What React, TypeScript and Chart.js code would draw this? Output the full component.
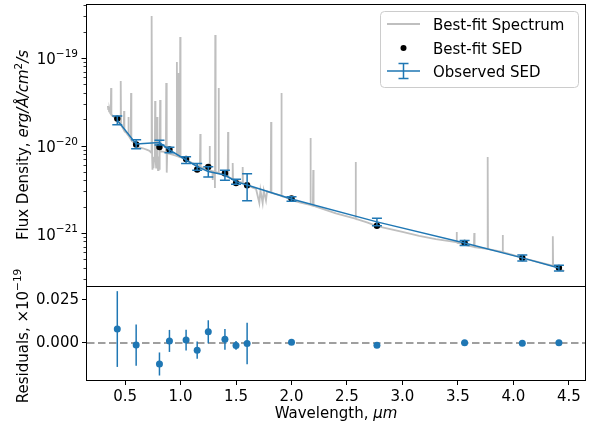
import React, { useEffect, useRef } from 'react';
import { Chart, registerables } from 'chart.js';

Chart.register(...registerables);

// ---------------- data ----------------
const BAND_WAVE = [0.43, 0.6, 0.81, 0.9, 1.05, 1.15, 1.25, 1.4, 1.5, 1.6, 2.0, 2.77, 3.56, 4.08, 4.41];
const OBS_FLUX = [1.95e-20, 1.04e-20, 1.08e-20, 8.9e-21, 6.83e-21, 5.73e-21, 5.05e-21, 4.6e-21, 3.86e-21, 3.54e-21, 2.45e-21, 1.34e-21, 7.7e-22, 5.2e-22, 3.98e-22];
const MODEL_FLUX = [2.03e-20, 1.03e-20, 9.6e-21, 9.0e-21, 7.0e-21, 5.31e-21, 5.7e-21, 4.81e-21, 3.72e-21, 3.51e-21, 2.49e-21, 1.21e-21, 7.72e-22, 5.18e-22, 4.0e-22];
// residuals and errors in units of 1e-19
const RESID = [0.0081, -0.0012, -0.0122, 0.0012, 0.0017, -0.0042, 0.0065, 0.0021, -0.0014, -0.0003, 0.0004, -0.0013, 0.0002, -0.0002, 0.0002];
const OBS_ERR = [0.022, 0.012, 0.0067, 0.0064, 0.006, 0.005, 0.0067, 0.006, 0.0025, 0.012, 0.0015, 0.0013, 0.0005, 0.0004, 0.0003];
const RES_UNIT = 1e-19;

const SPEC_WAVE = [
  0.345, 0.348, 0.352, 0.356, 0.360, 0.366, 0.371, 0.374, 0.377, 0.390,
  0.410, 0.430, 0.445, 0.458, 0.461, 0.464, 0.475, 0.488, 0.491, 0.494,
  0.510, 0.527, 0.530, 0.533, 0.551, 0.554, 0.557, 0.580, 0.600, 0.630,
  0.660, 0.700, 0.720, 0.735, 0.738, 0.741, 0.744, 0.747, 0.752, 0.756,
  0.762, 0.768, 0.771, 0.774, 0.780, 0.786, 0.789, 0.792, 0.797, 0.802,
  0.807, 0.812, 0.816, 0.820, 0.840, 0.860, 0.868, 0.871, 0.874, 0.877,
  0.880, 0.920, 0.950, 0.964, 0.967, 0.970, 0.979, 0.982, 0.985, 0.994,
  0.997, 1.000, 1.050, 1.100, 1.175, 1.178, 1.181, 1.220, 1.259, 1.262,
  1.265, 1.287, 1.290, 1.293, 1.308, 1.310, 1.313, 1.316, 1.340, 1.343,
  1.346, 1.390, 1.425, 1.428, 1.431, 1.467, 1.470, 1.473, 1.510, 1.557,
  1.560, 1.563, 1.600, 1.650, 1.680, 1.710, 1.720, 1.740, 1.750, 1.770,
  1.780, 1.813, 1.816, 1.819, 1.860, 1.906, 1.909, 1.912, 1.960, 2.000,
  2.080, 2.168, 2.171, 2.174, 2.193, 2.196, 2.199, 2.300, 2.400, 2.500,
  2.575, 2.578, 2.581, 2.680, 2.770, 2.900, 3.000, 3.150, 3.300, 3.485,
  3.488, 3.491, 3.560, 3.644, 3.647, 3.650, 3.765, 3.768, 3.771, 3.900,
  3.903, 3.906, 4.000, 4.080, 4.200, 4.352, 4.355, 4.358, 4.410, 4.460,
];
const SPEC_FLUX = [
  2.83e-20, 2.60e-20, 2.75e-20, 2.45e-20, 2.55e-20, 2.35e-20, 2.30e-20, 4.54e-20, 2.28e-20, 2.17e-20,
  2.05e-20, 1.91e-20, 1.80e-20, 1.73e-20, 5.46e-20, 1.71e-20, 1.62e-20, 1.51e-20, 2.48e-20, 1.49e-20,
  1.40e-20, 1.31e-20, 2.12e-20, 1.29e-20, 1.18e-20, 3.98e-20, 1.16e-20, 1.06e-20, 9.9e-21, 9.5e-21,
  9.3e-21, 8.9e-21, 8.7e-21, 8.3e-21, 8.5e-21, 3.02e-19, 7.5e-21, 5.3e-21, 7.0e-21, 5.5e-21,
  7.2e-21, 7.6e-21, 3.23e-20, 7.4e-21, 5.6e-21, 7.8e-21, 2.12e-20, 7.3e-21, 5.25e-21, 7.5e-21,
  5.4e-21, 8.2e-21, 3.31e-20, 8.5e-21, 8.5e-21, 8.4e-21, 8.35e-21, 5.18e-20, 8.3e-21, 4.9e-21,
  8.2e-21, 7.9e-21, 7.7e-21, 7.6e-21, 9.0e-20, 7.55e-21, 7.5e-21, 6.74e-20, 7.45e-21, 7.4e-21,
  1.74e-19, 7.35e-21, 6.9e-21, 6.35e-21, 5.75e-21, 1.35e-20, 5.7e-21, 5.45e-21, 5.25e-21, 9.86e-21,
  5.2e-21, 5.1e-21, 4.04e-21, 5.05e-21, 5.0e-21, 3.27e-21, 1.83e-19, 4.95e-21, 4.87e-21, 4.54e-20,
  4.85e-21, 4.55e-21, 4.38e-21, 1.43e-20, 4.36e-21, 4.15e-21, 6.3e-21, 4.13e-21, 3.95e-21, 3.75e-21,
  5.68e-21, 3.73e-21, 3.54e-21, 3.3e-21, 3.2e-21, 2.2e-21, 3.1e-21, 2.2e-21, 3.05e-21, 2.35e-21,
  2.98e-21, 2.9e-21, 1.86e-20, 2.88e-21, 2.78e-21, 2.67e-21, 3.98e-20, 2.65e-21, 2.52e-21, 2.38e-21,
  2.22e-21, 2.10e-21, 1.22e-20, 2.09e-21, 2.05e-21, 5.25e-21, 2.04e-21, 1.85e-21, 1.68e-21, 1.55e-21,
  1.46e-21, 6.47e-21, 1.45e-21, 1.32e-21, 1.20e-21, 1.10e-21, 1.03e-21, 9.3e-22, 8.5e-22, 7.85e-22,
  1.03e-21, 7.8e-22, 7.3e-22, 6.95e-22, 1.0e-21, 6.9e-22, 6.58e-22, 7.4e-21, 6.55e-22, 6.08e-22,
  9.5e-22, 6.05e-22, 5.6e-22, 5.18e-22, 4.75e-22, 4.25e-22, 9.2e-22, 4.22e-22, 3.88e-22, 3.68e-22,
];

const X_TICKS = [0.5, 1.0, 1.5, 2.0, 2.5, 3.0, 3.5, 4.0, 4.5];
const FLUX_DECADES = [-19, -20, -21];
const RES_TICKS = [0, 0.025];
const X_MIN = 0.157;
const X_MAX = 4.645;
const FLUX_MIN = 2.48e-22;
const FLUX_MAX = 4.14e-19;
const RES_MIN = -0.0215;
const RES_MAX = 0.0331;

const LEGEND_LABELS = ['Best-fit Spectrum', 'Best-fit SED', 'Observed SED'];

// ---------------- styles ----------------
const FAM = "'DejaVu Sans', sans-serif";
const FS = 15;
const BLUE = '#1f77b4';
const SPEC_GRAY = '#bfbfbf';

type Part = { t: string; font: string; dy?: number };

function drawParts(ctx: any, parts: Part[], x: number, y: number, align: 'left' | 'center' | 'right') {
  const widths = parts.map((p) => {
    ctx.font = p.font;
    return ctx.measureText(p.t).width;
  });
  const total = widths.reduce((a, b) => a + b, 0);
  let cx = align === 'left' ? x : align === 'center' ? x - total / 2 : x - total;
  ctx.textAlign = 'left';
  ctx.textBaseline = 'alphabetic';
  parts.forEach((p, i) => {
    ctx.font = p.font;
    ctx.fillText(p.t, cx, y + (p.dy || 0));
    cx += widths[i];
  });
}

const normal = (s: number) => `${s}px ${FAM}`;
const italic = (s: number) => `italic ${s}px ${FAM}`;

const topPlugin = {
  id: 'topDeco',
  afterDatasetsDraw(chart: any) {
    const { ctx, scales } = chart;
    const x = scales.x;
    const y = scales.y;
    ctx.save();
    ctx.strokeStyle = BLUE;
    ctx.lineWidth = 1.5;
    BAND_WAVE.forEach((w, i) => {
      const px = x.getPixelForValue(w);
      const e = OBS_ERR[i] * RES_UNIT;
      const hi = y.getPixelForValue(OBS_FLUX[i] + e);
      const lo = y.getPixelForValue(OBS_FLUX[i] - e);
      ctx.beginPath();
      ctx.moveTo(px, hi);
      ctx.lineTo(px, lo);
      ctx.moveTo(px - 5, hi);
      ctx.lineTo(px + 5, hi);
      ctx.moveTo(px - 5, lo);
      ctx.lineTo(px + 5, lo);
      ctx.stroke();
    });
    ctx.restore();
  },
  afterDraw(chart: any) {
    const { ctx, chartArea: a, scales } = chart;
    const y = scales.y;
    ctx.save();
    // frame
    ctx.strokeStyle = '#000';
    ctx.lineWidth = 1;
    ctx.strokeRect(a.left - 0.5, a.top + 0.5, a.right - a.left + 1, a.bottom - a.top);
    // log ticks
    for (let d = -22; d <= -19; d++) {
      for (let m = 1; m <= 9; m++) {
        const v = m * Math.pow(10, d);
        if (v < FLUX_MIN || v > FLUX_MAX) continue;
        const py = Math.round(y.getPixelForValue(v)) + 0.5;
        const len = m === 1 ? 5 : 3;
        ctx.lineWidth = m === 1 ? 1 : 0.8;
        ctx.beginPath();
        ctx.moveTo(a.left - 0.5 - len, py);
        ctx.lineTo(a.left - 0.5, py);
        ctx.stroke();
      }
    }
    // major labels
    ctx.fillStyle = '#000';
    FLUX_DECADES.forEach((d) => {
      const py = y.getPixelForValue(Math.pow(10, d));
      drawParts(
        ctx,
        [
          { t: '10', font: normal(FS), dy: 6.5 },
          { t: '\u2212' + String(-d), font: normal(10.5), dy: -1 },
        ],
        a.left - 9,
        py,
        'right'
      );
    });
    // y title
    ctx.save();
    ctx.translate(28, (a.top + a.bottom) / 2);
    ctx.rotate(-Math.PI / 2);
    drawParts(
      ctx,
      [
        { t: 'Flux Density, ', font: normal(FS) },
        { t: 'erg/\u00C5/cm', font: italic(FS) },
        { t: '2', font: normal(10.5), dy: -6 },
        { t: '/s', font: italic(FS) },
      ],
      0,
      0,
      'center'
    );
    ctx.restore();
    // legend
    const lx = 380.5, ly = 11.5, lw = 198, lh = 76;
    ctx.beginPath();
    if (ctx.roundRect) ctx.roundRect(lx, ly, lw, lh, 4);
    else ctx.rect(lx, ly, lw, lh);
    ctx.fillStyle = 'rgba(255,255,255,0.8)';
    ctx.fill();
    ctx.strokeStyle = '#cccccc';
    ctx.lineWidth = 1;
    ctx.stroke();
    const rows = [24, 48, 71];
    const h0 = 387, h1 = 420, hc = (h0 + h1) / 2;
    // spectrum handle
    ctx.strokeStyle = SPEC_GRAY;
    ctx.lineWidth = 1.8;
    ctx.beginPath();
    ctx.moveTo(h0, rows[0]);
    ctx.lineTo(h1, rows[0]);
    ctx.stroke();
    // SED dot
    ctx.fillStyle = '#000';
    ctx.beginPath();
    ctx.arc(hc, rows[1], 3, 0, Math.PI * 2);
    ctx.fill();
    // observed handle
    ctx.strokeStyle = BLUE;
    ctx.lineWidth = 1.5;
    ctx.beginPath();
    ctx.moveTo(h0, rows[2]);
    ctx.lineTo(h1, rows[2]);
    ctx.moveTo(hc, rows[2] - 7.5);
    ctx.lineTo(hc, rows[2] + 7.5);
    ctx.moveTo(hc - 5, rows[2] - 7.5);
    ctx.lineTo(hc + 5, rows[2] - 7.5);
    ctx.moveTo(hc - 5, rows[2] + 7.5);
    ctx.lineTo(hc + 5, rows[2] + 7.5);
    ctx.stroke();
    ctx.fillStyle = '#000';
    LEGEND_LABELS.forEach((t, i) => {
      drawParts(ctx, [{ t, font: normal(FS) }], 433, rows[i] + 5.5, 'left');
    });
    ctx.restore();
  },
};

const botPlugin = {
  id: 'botDeco',
  beforeDatasetsDraw(chart: any) {
    const { ctx, chartArea: a, scales } = chart;
    const x = scales.x;
    const y = scales.y;
    ctx.save();
    // zero line
    const y0 = y.getPixelForValue(0);
    ctx.strokeStyle = '#808080';
    ctx.lineWidth = 1.5;
    ctx.setLineDash([7.5, 3.5]);
    ctx.beginPath();
    ctx.moveTo(a.left, y0);
    ctx.lineTo(a.right, y0);
    ctx.stroke();
    ctx.setLineDash([]);
    // error bars
    ctx.strokeStyle = BLUE;
    ctx.lineWidth = 1.5;
    BAND_WAVE.forEach((w, i) => {
      const px = x.getPixelForValue(w);
      ctx.beginPath();
      ctx.moveTo(px, y.getPixelForValue(RESID[i] + OBS_ERR[i]));
      ctx.lineTo(px, y.getPixelForValue(RESID[i] - OBS_ERR[i]));
      ctx.stroke();
    });
    ctx.restore();
  },
  afterDraw(chart: any) {
    const { ctx, chartArea: a } = chart;
    ctx.save();
    ctx.strokeStyle = '#000';
    ctx.lineWidth = 1;
    ctx.strokeRect(a.left - 0.5, a.top + 0.5, a.right - a.left + 1, a.bottom - a.top);
    ctx.fillStyle = '#000';
    drawParts(
      ctx,
      [
        { t: 'Wavelength, ', font: normal(FS) },
        { t: '\u03BCm', font: italic(FS) },
      ],
      (a.left + a.right) / 2,
      418,
      'center'
    );
    ctx.save();
    ctx.translate(28, (a.top + a.bottom) / 2 + 3);
    ctx.rotate(-Math.PI / 2);
    drawParts(
      ctx,
      [
        { t: 'Residuals, ', font: normal(FS) },
        { t: '\u00D710', font: normal(FS) },
        { t: '\u221219', font: normal(10.5), dy: -7 },
      ],
      0,
      0,
      'center'
    );
    ctx.restore();
    ctx.restore();
  },
};

export default function App() {
  const topRef = useRef<HTMLCanvasElement | null>(null);
  const botRef = useRef<HTMLCanvasElement | null>(null);

  useEffect(() => {
    if (!topRef.current || !botRef.current) return;
    const spectrum = SPEC_WAVE.map((w, i) => ({ x: w, y: SPEC_FLUX[i] }));
    const observed = BAND_WAVE.map((w, i) => ({ x: w, y: OBS_FLUX[i] }));
    const model = BAND_WAVE.map((w, i) => ({ x: w, y: MODEL_FLUX[i] }));
    const resid = BAND_WAVE.map((w, i) => ({ x: w, y: RESID[i] }));

    const top = new Chart(topRef.current, {
      type: 'line',
      data: {
        datasets: [
          {
            label: LEGEND_LABELS[2],
            data: observed,
            borderColor: BLUE,
            borderWidth: 1.5,
            pointRadius: 0,
            fill: false,
            tension: 0,
            order: 1,
          } as any,
          {
            type: 'scatter',
            label: LEGEND_LABELS[1],
            data: model,
            backgroundColor: '#000',
            borderWidth: 0,
            pointRadius: 3.2,
            order: 2,
          } as any,
          {
            label: LEGEND_LABELS[0],
            data: spectrum,
            borderColor: SPEC_GRAY,
            borderWidth: 1.8,
            pointRadius: 0,
            fill: false,
            tension: 0,
            order: 3,
          } as any,
        ],
      },
      options: {
        responsive: false,
        animation: false,
        events: [],
        layout: { padding: { left: 87, right: 10, top: 4, bottom: 139 } },
        scales: {
          x: { type: 'linear', min: X_MIN, max: X_MAX, display: false },
          y: { type: 'logarithmic', min: FLUX_MIN, max: FLUX_MAX, display: false },
        },
        plugins: { legend: { display: false }, tooltip: { enabled: false } },
      } as any,
      plugins: [topPlugin],
    });

    const tickFont = { family: FAM, size: FS };
    const bot = new Chart(botRef.current, {
      type: 'scatter',
      data: {
        datasets: [
          {
            label: 'Residuals',
            data: resid,
            backgroundColor: BLUE,
            borderWidth: 0,
            pointRadius: 3.5,
          } as any,
        ],
      },
      options: {
        responsive: false,
        animation: false,
        events: [],
        layout: { padding: { left: 0, right: 10, top: 286, bottom: 0 } },
        scales: {
          x: {
            type: 'linear',
            min: X_MIN,
            max: X_MAX,
            afterBuildTicks: (s: any) => {
              s.ticks = X_TICKS.map((v) => ({ value: v }));
            },
            afterFit: (s: any) => {
              s.height = 45;
            },
            ticks: {
              callback: (v: any) => Number(v).toFixed(1),
              font: tickFont,
              color: '#000',
              padding: 3,
              maxRotation: 0,
              autoSkip: false,
            },
            grid: { display: true, drawOnChartArea: false, drawTicks: true, tickLength: 5, color: '#000', lineWidth: 1 },
            border: { display: false },
          },
          y: {
            type: 'linear',
            min: RES_MIN,
            max: RES_MAX,
            afterBuildTicks: (s: any) => {
              s.ticks = RES_TICKS.map((v) => ({ value: v }));
            },
            afterFit: (s: any) => {
              s.width = 87;
            },
            ticks: {
              callback: (v: any) => Number(v).toFixed(3),
              font: tickFont,
              color: '#000',
              padding: 3,
              autoSkip: false,
            },
            grid: { display: true, drawOnChartArea: false, drawTicks: true, tickLength: 5, color: '#000', lineWidth: 1 },
            border: { display: false },
          },
        },
        plugins: { legend: { display: false }, tooltip: { enabled: false } },
      } as any,
      plugins: [botPlugin],
    });

    return () => {
      top.destroy();
      bot.destroy();
    };
  }, []);

  return (
    <div style={{ position: 'fixed', left: 0, top: 0, width: 595, height: 425, background: '#fff' }}>
      <canvas ref={botRef} width={595} height={425} style={{ position: 'absolute', left: 0, top: 0 }} />
      <canvas ref={topRef} width={595} height={425} style={{ position: 'absolute', left: 0, top: 0 }} />
    </div>
  );
}
